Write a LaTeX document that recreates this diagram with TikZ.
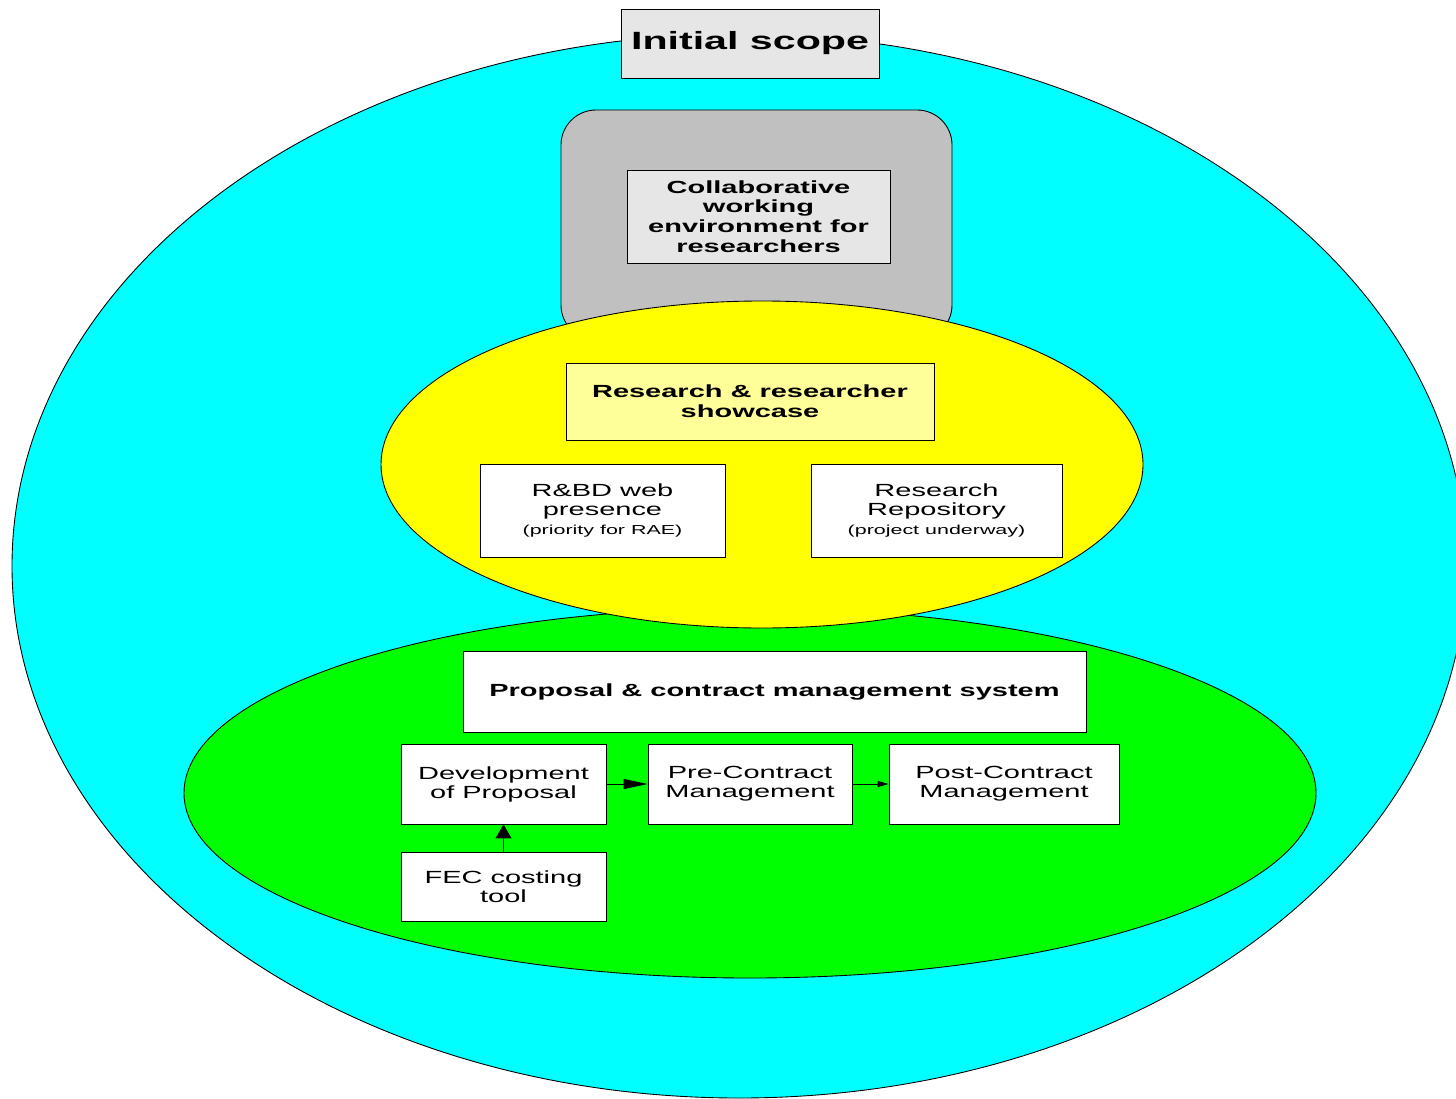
\documentclass[tikz,border=0pt]{standalone}
\usepackage{fontspec}
\setmainfont{Liberation Sans}[FakeStretch=1.65]
\usetikzlibrary{arrows.meta}
\definecolor{scopecyan}{HTML}{00FFFF}
\definecolor{showyellow}{HTML}{FFFF00}
\definecolor{paleyellow}{HTML}{FFFF99}
\definecolor{propgreen}{HTML}{00FF00}
\definecolor{cwegrey}{HTML}{C0C0C0}
\definecolor{labelgrey}{HTML}{E6E6E6}
\tikzset{
  area/.style={draw=black, line width=0.5pt},
  box/.style={draw=black, fill=white, line width=0.5pt, inner sep=0pt, align=center,
    font=\fontsize{10}{10.8}\selectfont},
  boldbox/.style={box, font=\bfseries\fontsize{10}{11.2}\selectfont},
}
\def\note#1{{\fontsize{7.4}{8.2}\selectfont #1}}
\begin{document}
\begin{tikzpicture}[x=0.02cm, y=-0.02cm]
  \useasboundingbox (0,0) rectangle (1456,1098);
  % areas, back to front
  \fill[scopecyan, area] (739,566) ellipse [x radius=727, y radius=532];
  \draw[area, fill=cwegrey, rounded corners=0.7cm] (561,110) rectangle (952,340);
  \fill[propgreen, area] (750,793) ellipse [x radius=566, y radius=185];
  \fill[showyellow, area] (762,464.5) ellipse [x radius=381, y radius=163.5];

  % boxes
  \node[boldbox, fill=labelgrey, minimum width=5.16cm, minimum height=1.38cm,
    font=\bfseries\fontsize{14.2}{16}\selectfont] (scope) at (750,43.5) {Initial scope};
  \node[boldbox, fill=labelgrey, minimum width=5.26cm, minimum height=1.86cm] (cwe) at (758.5,216.5)
    {Collaborative\\working\\environment for\\researchers};
  \node[boldbox, fill=paleyellow, minimum width=7.36cm, minimum height=1.54cm] (showcase) at (750,401.5)
    {Research \& researcher\\showcase};
  \node[box, minimum width=4.9cm, minimum height=1.86cm] (web) at (602.5,510.5)
    {R\&BD web\\presence\\\note{(priority for RAE)}};
  \node[box, minimum width=5.02cm, minimum height=1.86cm] (repo) at (936.5,510.5)
    {Research\\Repository\\\note{(project underway)}};
  \node[boldbox, minimum width=12.46cm, minimum height=1.62cm] (pcms) at (774.5,691.5)
    {Proposal \& contract management system};
  \node[box, minimum width=4.1cm, minimum height=1.6cm] (dev) at (503.5,784) {Development\\of Proposal};
  \node[box, minimum width=4.08cm, minimum height=1.6cm] (pre) at (750,784) {Pre-Contract\\Management};
  \node[box, minimum width=4.6cm, minimum height=1.6cm] (post) at (1004,784) {Post-Contract\\Management};
  \node[box, minimum width=4.1cm, minimum height=1.38cm] (fec) at (503.5,886.5) {FEC costing\\tool};

  % flow
  \draw[line width=0.5pt, -{Triangle[length=0.48cm, width=0.2cm]}] (dev) -- (pre);
  \draw[line width=0.5pt, -{Triangle[length=0.22cm, width=0.12cm]}] (pre) -- (post);
  \draw[line width=0.5pt, -{Triangle[length=0.28cm, width=0.32cm]}] (fec) -- (dev);
\end{tikzpicture}
\end{document}
